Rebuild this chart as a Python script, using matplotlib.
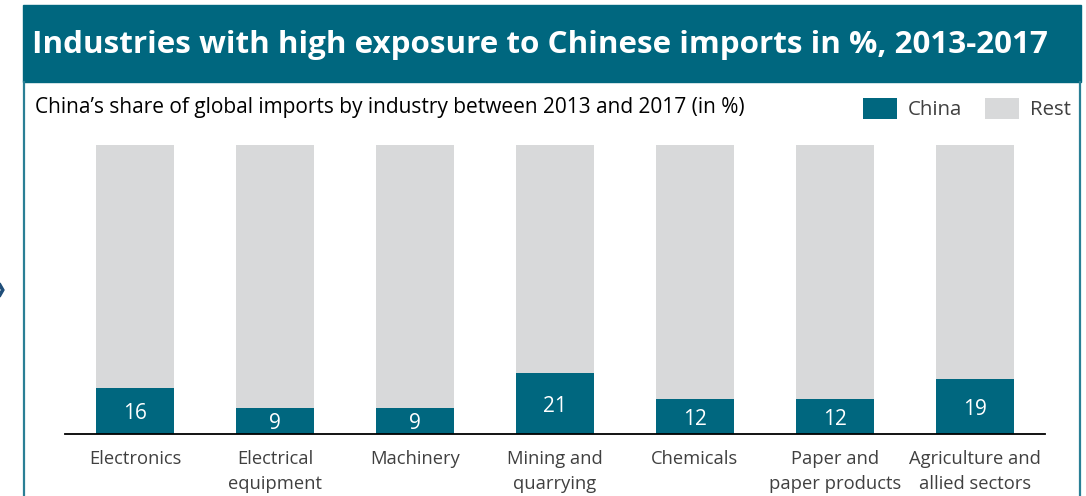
import matplotlib.pyplot as plt
from matplotlib.patches import Rectangle, Polygon
from matplotlib.lines import Line2D

plt.rcParams['font.family'] = ['Open Sans', 'DejaVu Sans']

industries = ["Electronics", "Electrical\nequipment", "Machinery", "Mining and\nquarrying",
              "Chemicals", "Paper and\npaper products", "Agriculture and\nallied sectors"]
china = [16, 9, 9, 21, 12, 12, 19]
rest = [100 - v for v in china]

TEAL = "#00677F"
GREY = "#D8D9DA"
W, H = 1086, 496

fig = plt.figure(figsize=(W / 100, H / 100), dpi=100)

# outer frame and title banner (pixel coords converted to figure fraction)
def fx(px):
    return px / W

def fy(py):
    return 1 - py / H

fig.add_artist(Line2D([fx(24), fx(24)], [fy(82), 0], color="#2A7F95", lw=1.6))
fig.add_artist(Line2D([fx(1080), fx(1080)], [fy(82), 0], color="#2A7F95", lw=1.6))
fig.add_artist(Rectangle((fx(23), fy(82)), fx(1081) - fx(23), fy(5) - fy(82),
                         transform=fig.transFigure, color=TEAL, zorder=1))
fig.text(fx(32), fy(45), "Industries with high exposure to Chinese imports in %, 2013-2017",
         color="white", fontsize=22.6, fontweight="bold", va="center", ha="left")
fig.text(fx(35), fy(108), "China\u2019s share of global imports by industry between 2013 and 2017 (in %)",
         color="black", fontsize=15, va="center", ha="left")

# small chevron at the left edge
fig.add_artist(Polygon([[fx(0), fy(283)], [fx(4), fy(290)], [fx(0), fy(297)], [fx(0), fy(293)],
                        [fx(1.5), fy(290)], [fx(0), fy(287)]],
                       closed=True, transform=fig.transFigure, color="#1F4E79"))

ax = fig.add_axes([fx(65), fy(434), fx(1045) - fx(65), fy(145) - fy(434)])
x = range(len(industries))
ax.bar(x, china, width=0.557, color=TEAL, label="China")
ax.bar(x, rest, width=0.557, bottom=china, color=GREY, label="Rest")

for i, v in enumerate(china):
    ax.text(i, v / 2, str(v), color="white", fontsize=15, ha="center", va="center_baseline")

ax.set_xlim(-0.5, 6.5)
ax.set_ylim(0, 100)
ax.set_xticks(list(x))
ax.set_xticklabels(industries, fontsize=13.2, color="#404040", linespacing=1.5)
ax.tick_params(axis="x", length=0, pad=11.5)
ax.set_yticks([])
for s in ["top", "right", "left"]:
    ax.spines[s].set_visible(False)
ax.spines["bottom"].set_linewidth(1.3)
ax.spines["bottom"].set_color("black")

leg = fig.legend(loc="upper right", bbox_to_anchor=(fx(1071), fy(98)), ncol=2, frameon=False,
                 fontsize=14.7, handlelength=1.67, handleheight=1.22, columnspacing=1.1,
                 handletextpad=0.55, borderpad=0, borderaxespad=0)
for t in leg.get_texts():
    t.set_color("#404040")

fig.savefig("out.png", dpi=100)
